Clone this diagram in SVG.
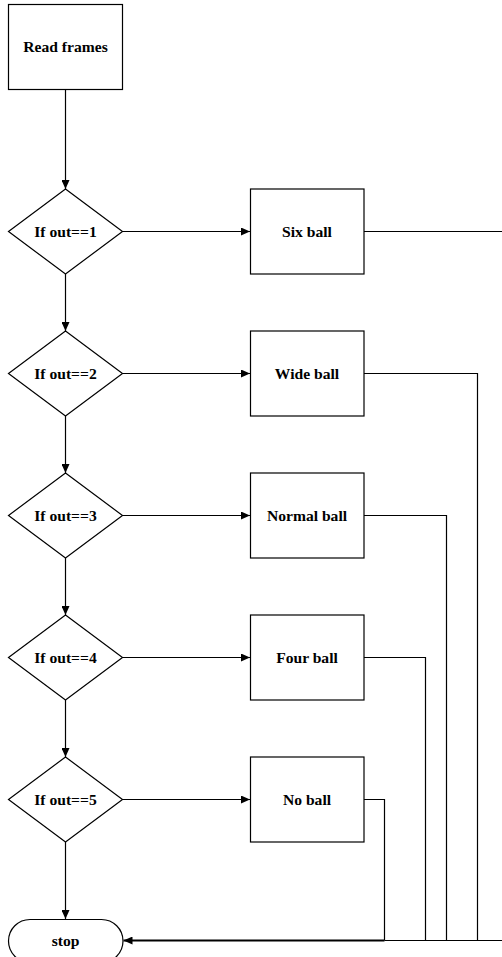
<svg xmlns="http://www.w3.org/2000/svg" width="502" height="957" viewBox="0 0 502 957">
  <style>
    .shape { fill: #fff; stroke: #000; stroke-width: 1.2; }
    .lbl { font-family: "Liberation Serif", "Times New Roman", serif; font-weight: bold; font-size: 15.6px; fill: #000; text-anchor: middle; }
    .wire { fill: none; stroke: #000; stroke-width: 1.2; }
    .arrow { fill: none; stroke: #000; stroke-width: 1.2; marker-end: url(#head); }
  </style>
  <defs>
    <marker id="head" markerUnits="userSpaceOnUse" markerWidth="9" markerHeight="8" refX="9" refY="4" orient="auto">
      <path d="M0,0 L9,4 L0,8 z" fill="#000"/>
    </marker>
  </defs>
  <rect width="502" height="957" fill="#fff"/>

  <!-- connectors -->
  <g id="connectors">
    <!-- main spine -->
    <path class="arrow" d="M65.5,89 V189"/>
    <path class="arrow" d="M65.5,274 V331"/>
    <path class="arrow" d="M65.5,416 V473"/>
    <path class="arrow" d="M65.5,558 V615"/>
    <path class="arrow" d="M65.5,700 V757"/>
    <path class="arrow" d="M65.5,842 V919"/>
    <!-- decision to action -->
    <path class="arrow" d="M122.5,231.5 H250"/>
    <path class="arrow" d="M122.5,373.5 H250"/>
    <path class="arrow" d="M122.5,515.5 H250"/>
    <path class="arrow" d="M122.5,657.5 H250"/>
    <path class="arrow" d="M122.5,799.5 H250"/>
    <!-- action returns -->
    <path class="wire" d="M364,231.5 H502"/>
    <path class="wire" d="M364,373.5 H477.5 V940.5"/>
    <path class="wire" d="M364,515.5 H446.5 V940.5"/>
    <path class="wire" d="M364,657.5 H425.5 V940.5"/>
    <path class="wire" d="M364,799.5 H384.5 V940.5"/>
    <path class="wire" d="M502,940.5 H384.5"/>
    <path d="M384.5,940.5 H123.5" fill="none" stroke="#000" stroke-width="2.2" marker-end="url(#head)"/>
  </g>

  <g id="read-frames">
    <rect class="shape" x="8.5" y="4.5" width="114" height="85"/>
    <text class="lbl" x="65.5" y="52">Read frames</text>
  </g>

  <g id="if1">
    <polygon class="shape" points="65.5,189 122.5,231.5 65.5,274 8.5,231.5"/>
    <text class="lbl" x="65.5" y="236.5">If out==1</text>
  </g>
  <g id="if2">
    <polygon class="shape" points="65.5,331 122.5,373.5 65.5,416 8.5,373.5"/>
    <text class="lbl" x="65.5" y="378.5">If out==2</text>
  </g>
  <g id="if3">
    <polygon class="shape" points="65.5,473 122.5,515.5 65.5,558 8.5,515.5"/>
    <text class="lbl" x="65.5" y="520.5">If out==3</text>
  </g>
  <g id="if4">
    <polygon class="shape" points="65.5,615 122.5,657.5 65.5,700 8.5,657.5"/>
    <text class="lbl" x="65.5" y="662.5">If out==4</text>
  </g>
  <g id="if5">
    <polygon class="shape" points="65.5,757 122.5,799.5 65.5,842 8.5,799.5"/>
    <text class="lbl" x="65.5" y="804.5">If out==5</text>
  </g>

  <g id="six-ball">
    <rect class="shape" x="250.5" y="189" width="113.5" height="85"/>
    <text class="lbl" x="307" y="236.5">Six ball</text>
  </g>
  <g id="wide-ball">
    <rect class="shape" x="250.5" y="331" width="113.5" height="85"/>
    <text class="lbl" x="307" y="378.5">Wide ball</text>
  </g>
  <g id="normal-ball">
    <rect class="shape" x="250.5" y="473" width="113.5" height="85"/>
    <text class="lbl" x="307" y="520.5">Normal ball</text>
  </g>
  <g id="four-ball">
    <rect class="shape" x="250.5" y="615" width="113.5" height="85"/>
    <text class="lbl" x="307" y="662.5">Four ball</text>
  </g>
  <g id="no-ball">
    <rect class="shape" x="250.5" y="757" width="113.5" height="85"/>
    <text class="lbl" x="307" y="804.5">No ball</text>
  </g>

  <g id="stop">
    <rect class="shape" x="8.5" y="919.5" width="114.5" height="43" rx="21.5" ry="21.5"/>
    <text class="lbl" x="65.5" y="945.5">stop</text>
  </g>
</svg>
